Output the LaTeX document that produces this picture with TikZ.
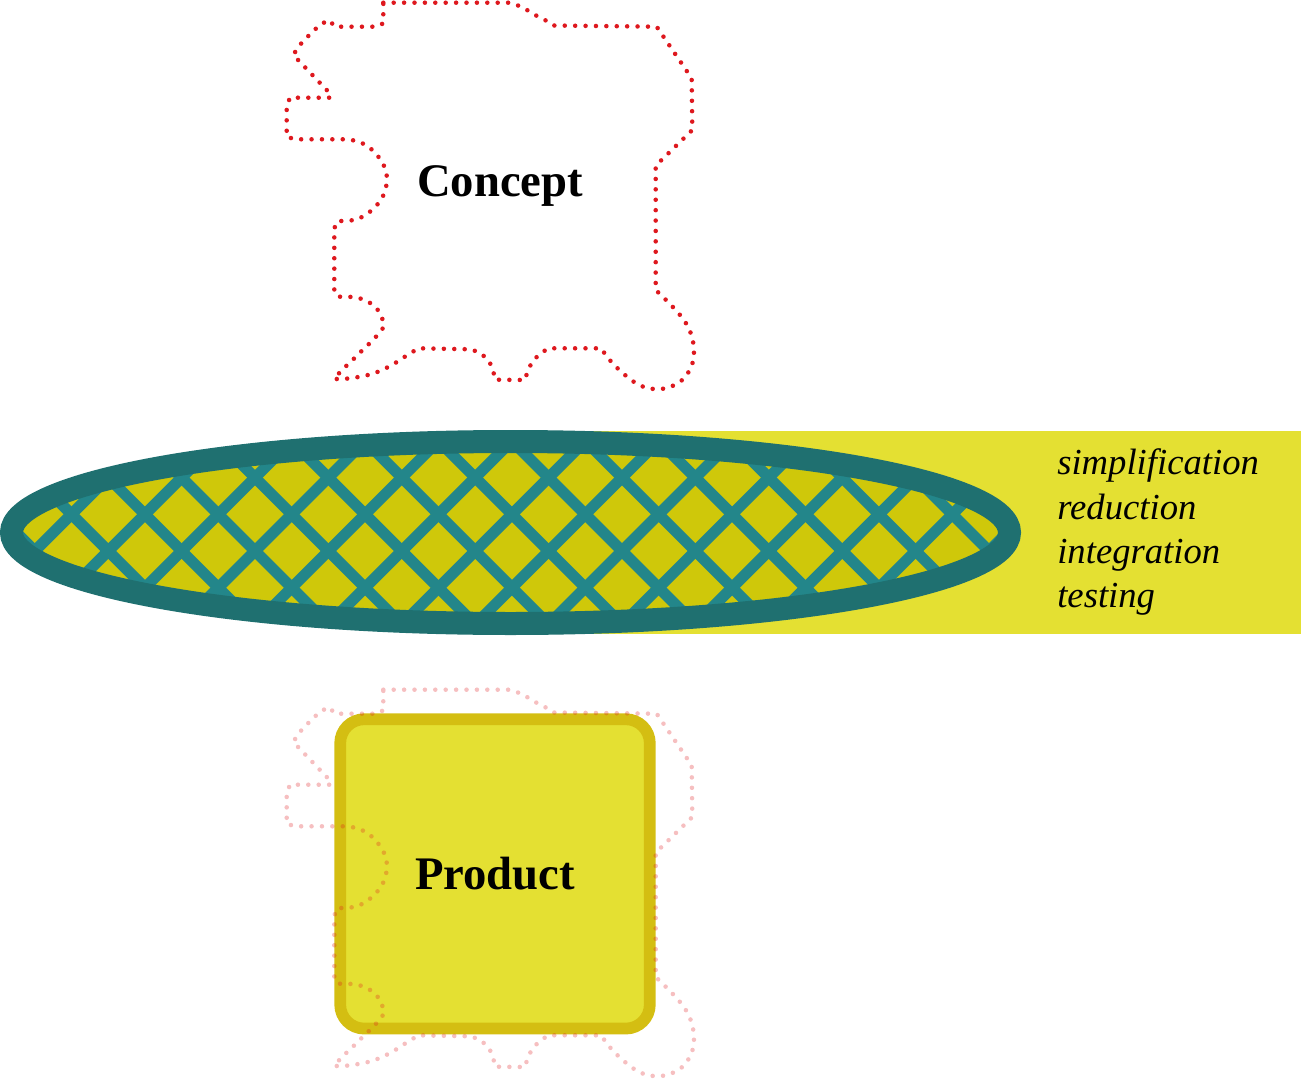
\documentclass[tikz,border=0pt]{standalone}
\usepackage{fontspec}
\setmainfont{Liberation Serif}
\usepackage{tikz}
\usetikzlibrary{positioning}

\newcommand\blobpath{(383.3,2.7) -- (508.3,2.7) -- (517,5) -- (527,10) -- (535.7,15.3) -- (545,20) -- (553.3,25.5) -- (656.7,26.7) -- (691.7,78.3) -- (692.3,130) -- (655.7,165.7) -- (655.7,290) -- (662.7,296.7) -- (670,304) -- (678.3,312.7) -- (686,323.3) -- (691.7,335) -- (694.3,348.3) -- (693.3,361) -- (689.3,371) -- (683.3,379.3) -- (676,384.3) -- (667.3,388.3) -- (657.3,389.3) -- (646.7,388.3) -- (635.7,383.3) -- (625,375) -- (615,366) -- (607.7,357.7) -- (601,348.3) -- (548.3,348.3) -- (539.3,354.3) -- (532.3,361.7) -- (527.7,370.7) -- (525,380) -- (495,379.7) -- (492.7,368.3) -- (488.3,360) -- (480,352.7) -- (470.7,349.3) -- (418.3,348.3) -- (402.3,358.3) -- (393.3,364.3) -- (384.3,369) -- (374.3,373.3) -- (364.3,376) -- (354.3,377.7) -- (344,379) -- (334,379) -- (341,371) -- (349,363.3) -- (356,356.7) -- (363.3,349.3) -- (370.7,342.3) -- (378.3,334.3) -- (384,326.7) -- (381.7,316) -- (376,307.3) -- (368.3,301.7) -- (358.3,297.7) -- (348.3,296.7) -- (337.7,296.7) -- (334.3,290) -- (334.3,228.3) -- (337.7,221) -- (348.3,221) -- (358.3,219) -- (367.3,214) -- (375,207.3) -- (381.7,199.3) -- (385.7,189.3) -- (387.3,179.3) -- (385.7,169.3) -- (381,160) -- (374.3,151.7) -- (366.7,145.3) -- (357.3,141) -- (346.7,139.3) -- (295,139.3) -- (286.7,136.7) -- (286.7,106) -- (290,97.7) -- (330.7,97.7) -- (329.3,92.7) -- (293.3,55) -- (298.3,46.7) -- (305,39.3) -- (312.7,31.7) -- (320,24.7) -- (329,20) -- (335,26.7) -- (376.7,26.7) -- (383.3,23.3) -- cycle}

\begin{document}
\begin{tikzpicture}[x=0.75pt,y=0.75pt,yscale=-1,xscale=1,
  blob/.style={draw={rgb, 255:red, 222; green, 24; blue, 30 }, line width=3.4pt, line cap=round, dash pattern=on 0pt off 7.8pt},
  ghost/.style={blob, draw opacity=0.28},
  hatch/.style={draw={rgb, 255:red, 35; green, 134; blue, 138 }, line width=8.3pt},
  word/.style={anchor=base west, inner sep=0pt, font=\fontsize{27.5}{30}\selectfont\itshape}]
  \useasboundingbox (0,0) rectangle (1301,1080);

  %Shape: Rectangle [band]
  \fill [color={rgb, 255:red, 228; green, 224; blue, 50 }] (510,431) rectangle (1301,634) ;

  %Shape: Ellipse [sieve] inside
  \begin{scope}
    \clip (510.5,532.5) ellipse [x radius=499, y radius=91] ;
    \fill [color={rgb, 255:red, 207; green, 200; blue, 10 }] (0,420) rectangle (1030,650) ;
    \foreach \k in {-6,...,14} {
      \draw [hatch] ({124+73.4*\k},420) -- ({354+73.4*\k},650) ;
      \draw [hatch] ({312.6+73.4*\k},420) -- ({82.6+73.4*\k},650) ;
    }
  \end{scope}
  %Shape: Ellipse [sieve] rim
  \draw [color={rgb, 255:red, 31; green, 112; blue, 112 }, line width=17.25pt] (510.5,532.5) ellipse [x radius=499, y radius=91] ;

  %Shape: Rounded Rectangle [product]
  \node (product) [draw={rgb, 255:red, 212; green, 190; blue, 18 }, fill={rgb, 255:red, 228; green, 224; blue, 50 }, line width=8.8pt, rounded corners=18pt, minimum width=232.2pt, minimum height=232pt, font=\fontsize{35}{40}\selectfont\bfseries] at (495,873.9) {Product};

  %Curve Lines [concept outline]
  \draw [blob] \blobpath ;
  %Curve Lines [ghost outline]
  \begin{scope}[shift={(0,687)}]
    \draw [ghost] \blobpath ;
  \end{scope}

  % Text Node
  \node (concept) [anchor=base, inner sep=0pt, font=\fontsize{35}{40}\selectfont\bfseries] at (500,197) {Concept};
  % Text Node
  \node (simp) [word] at (1057,474) {simplification};
  \node (redu) [word] at (1057,519) {reduction};
  \node (inte) [word] at (1057,563) {integration};
  \node (test) [word] at (1057,607) {testing};

\end{tikzpicture}
\end{document}
